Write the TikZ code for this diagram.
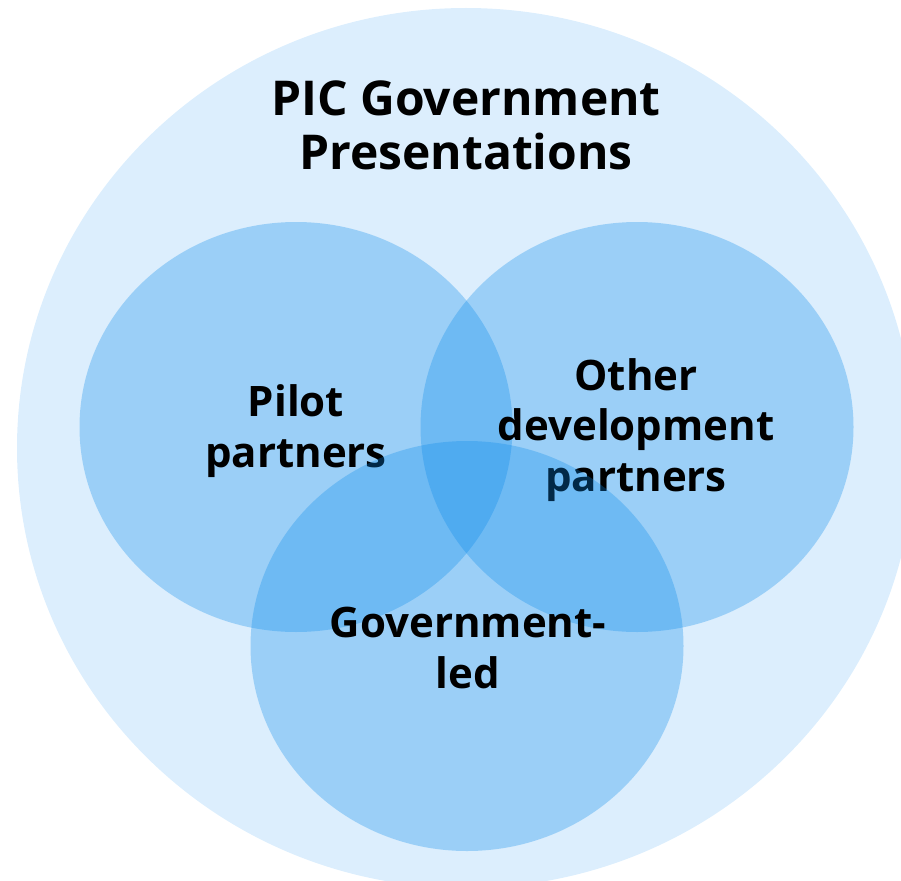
\documentclass[tikz,border=0pt]{standalone}
\usepackage{fontspec}
\setmainfont{Open Sans}
\usetikzlibrary{positioning,shapes.geometric}
\definecolor{outerblue}{HTML}{DCEEFD}
\definecolor{setblue}{RGB}{8,138,236}

\begin{document}
\begin{tikzpicture}[x=1pt, y=-1pt,
outer/.style={ellipse, fill=outerblue, minimum width=898pt, minimum height=880pt, inner sep=0pt},
setcircle/.style={ellipse, fill=setblue, fill opacity=0.3, minimum width=433pt, minimum height=410pt, inner sep=0pt},
lbl/.style={align=center, font=\bfseries\fontsize{42}{50.5}\selectfont, text=black, inner sep=0pt, anchor=base},
]

\clip (0,0) rectangle (901,880);

\node[outer] (world) at (466,448) {};
\node[lbl, font=\bfseries\fontsize{48}{54}\selectfont] (title) at (466,169) {PIC Government\\Presentations};

\node[setcircle] (pilotset) at (296,427) {};
\node[lbl] (pilot) at (296,467) {Pilot\\partners};

\node[setcircle] (otherset) at (637,427) {};
\node[lbl] (other) at (636,491) {Other\\development\\partners};

\node[setcircle] (govset) at (467,646) {};
\node[lbl] (gov) at (468,688) {Government-\\led};

\end{tikzpicture}
\end{document}
